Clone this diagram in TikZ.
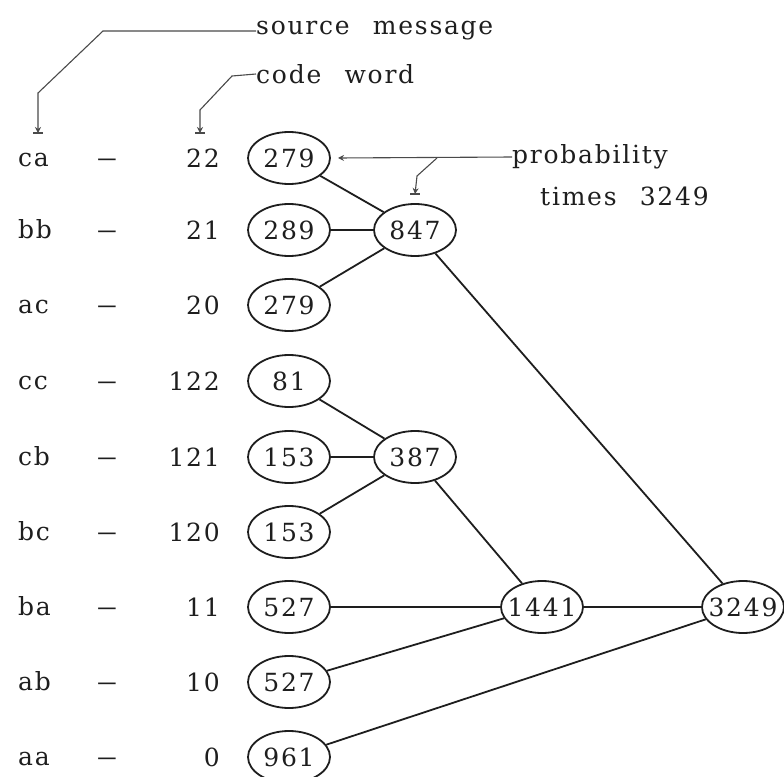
\documentclass[tikz,border=0pt]{standalone}
\usepackage{fontspec}
\setmainfont{DejaVu Serif}[LetterSpace=7,WordSpace=2.4]
\usetikzlibrary{shapes.geometric,arrows.meta}
\definecolor{ink}{HTML}{1E1E1E}
\definecolor{annc}{HTML}{4A4A4A}
\begin{document}
\begin{tikzpicture}[x=1pt,y=-1pt,
  every node/.style={font=\fontsize{25}{29}\selectfont, text=ink},
  lbl/.style={anchor=west, inner sep=0pt},
  rowlbl/.style={anchor=base west, inner sep=0pt},
  codew/.style={anchor=base east, inner sep=0pt},
  dsh/.style={anchor=base, inner sep=0pt},
  prob/.style={ellipse, draw=ink, line width=1.8pt, minimum width=82pt, minimum height=52pt, inner sep=0pt},
  edge/.style={draw=ink, line width=1.8pt},
  ann/.style={draw=annc, line width=1.1pt},
  annarrow/.style={ann, -{Stealth[length=6pt,width=6pt]}},
  annbar/.style={ann}]
\useasboundingbox (0,0) rectangle (784,776);

% rows
\foreach \nm/\sm/\cw/\y in {r1/ca/22/158, r2/bb/21/230, r3/ac/20/305, r4/cc/122/381, r5/cb/121/457, r6/bc/120/532, r7/ba/11/607, r8/ab/10/682, r9/aa/0/757}{
  \node[rowlbl] (\nm s) at (18,\y+8) {\sm};
  \node[dsh] (\nm d) at (107,\y+8) {\scalebox{1.7}[1]{–}};
  \node[codew] (\nm c) at (220,\y+9) {\cw};
}

% leaf nodes
\node[prob] (p1) at (289,158) {\makebox[0pt]{279}};
\node[prob] (p2) at (289,230) {\makebox[0pt]{289}};
\node[prob] (p3) at (289,305) {\makebox[0pt]{279}};
\node[prob] (p4) at (289,381) {\makebox[0pt]{81}};
\node[prob] (p5) at (289,457) {\makebox[0pt]{153}};
\node[prob] (p6) at (289,532) {\makebox[0pt]{153}};
\node[prob] (p7) at (289,607) {\makebox[0pt]{527}};
\node[prob] (p8) at (289,682) {\makebox[0pt]{527}};
\node[prob] (p9) at (289,757) {\makebox[0pt]{961}};

% internal nodes
\node[prob] (q847) at (415,230) {\makebox[0pt]{847}};
\node[prob] (q387) at (415,457) {\makebox[0pt]{387}};
\node[prob] (q1441) at (542,607) {\makebox[0pt]{1441}};
\node[prob] (q3249) at (743,607) {\makebox[0pt]{3249}};

% tree edges
\draw[edge] (p1) -- (q847);
\draw[edge] (p2) -- (q847);
\draw[edge] (p3) -- (q847);
\draw[edge] (p4) -- (q387);
\draw[edge] (p5) -- (q387);
\draw[edge] (p6) -- (q387);
\draw[edge] (q387) -- (q1441);
\draw[edge] (p7) -- (q1441);
\draw[edge] (p8) -- (q1441);
\draw[edge] (q1441) -- (q3249);
\draw[edge] (p9) -- (q3249);
\draw[edge] (q847) -- (q3249);

% annotations
\node[lbl] (srcmsg) at (256,31) {source message};
\node[lbl] (codeword) at (256,74) {code word};
\node[lbl] (probab) at (512,157) {probability};
\node[lbl] (times) at (540,196) {times 3249};

\coordinate (smTip) at (38,133);
\coordinate (cwTip) at (200,133);
\coordinate (pbTip) at (338,158);
\coordinate (pbBranch) at (437,158);
\coordinate (pbDown) at (415,194);

\draw[annarrow] (srcmsg.west) -- (103,31) -- (38,93) -- (smTip);
\draw[annbar] ([xshift=-5pt]smTip) -- ([xshift=5pt]smTip);
\draw[annarrow] (codeword.west) -- (232,76) -- (200,110) -- (cwTip);
\draw[annbar] ([xshift=-5pt]cwTip) -- ([xshift=5pt]cwTip);
\draw[annarrow] (probab.west) -- (pbTip);
\draw[annarrow] (pbBranch) -- (417,176) -- (pbDown);
\draw[annbar] ([xshift=-5pt]pbDown) -- ([xshift=5pt]pbDown);
\end{tikzpicture}
\end{document}
